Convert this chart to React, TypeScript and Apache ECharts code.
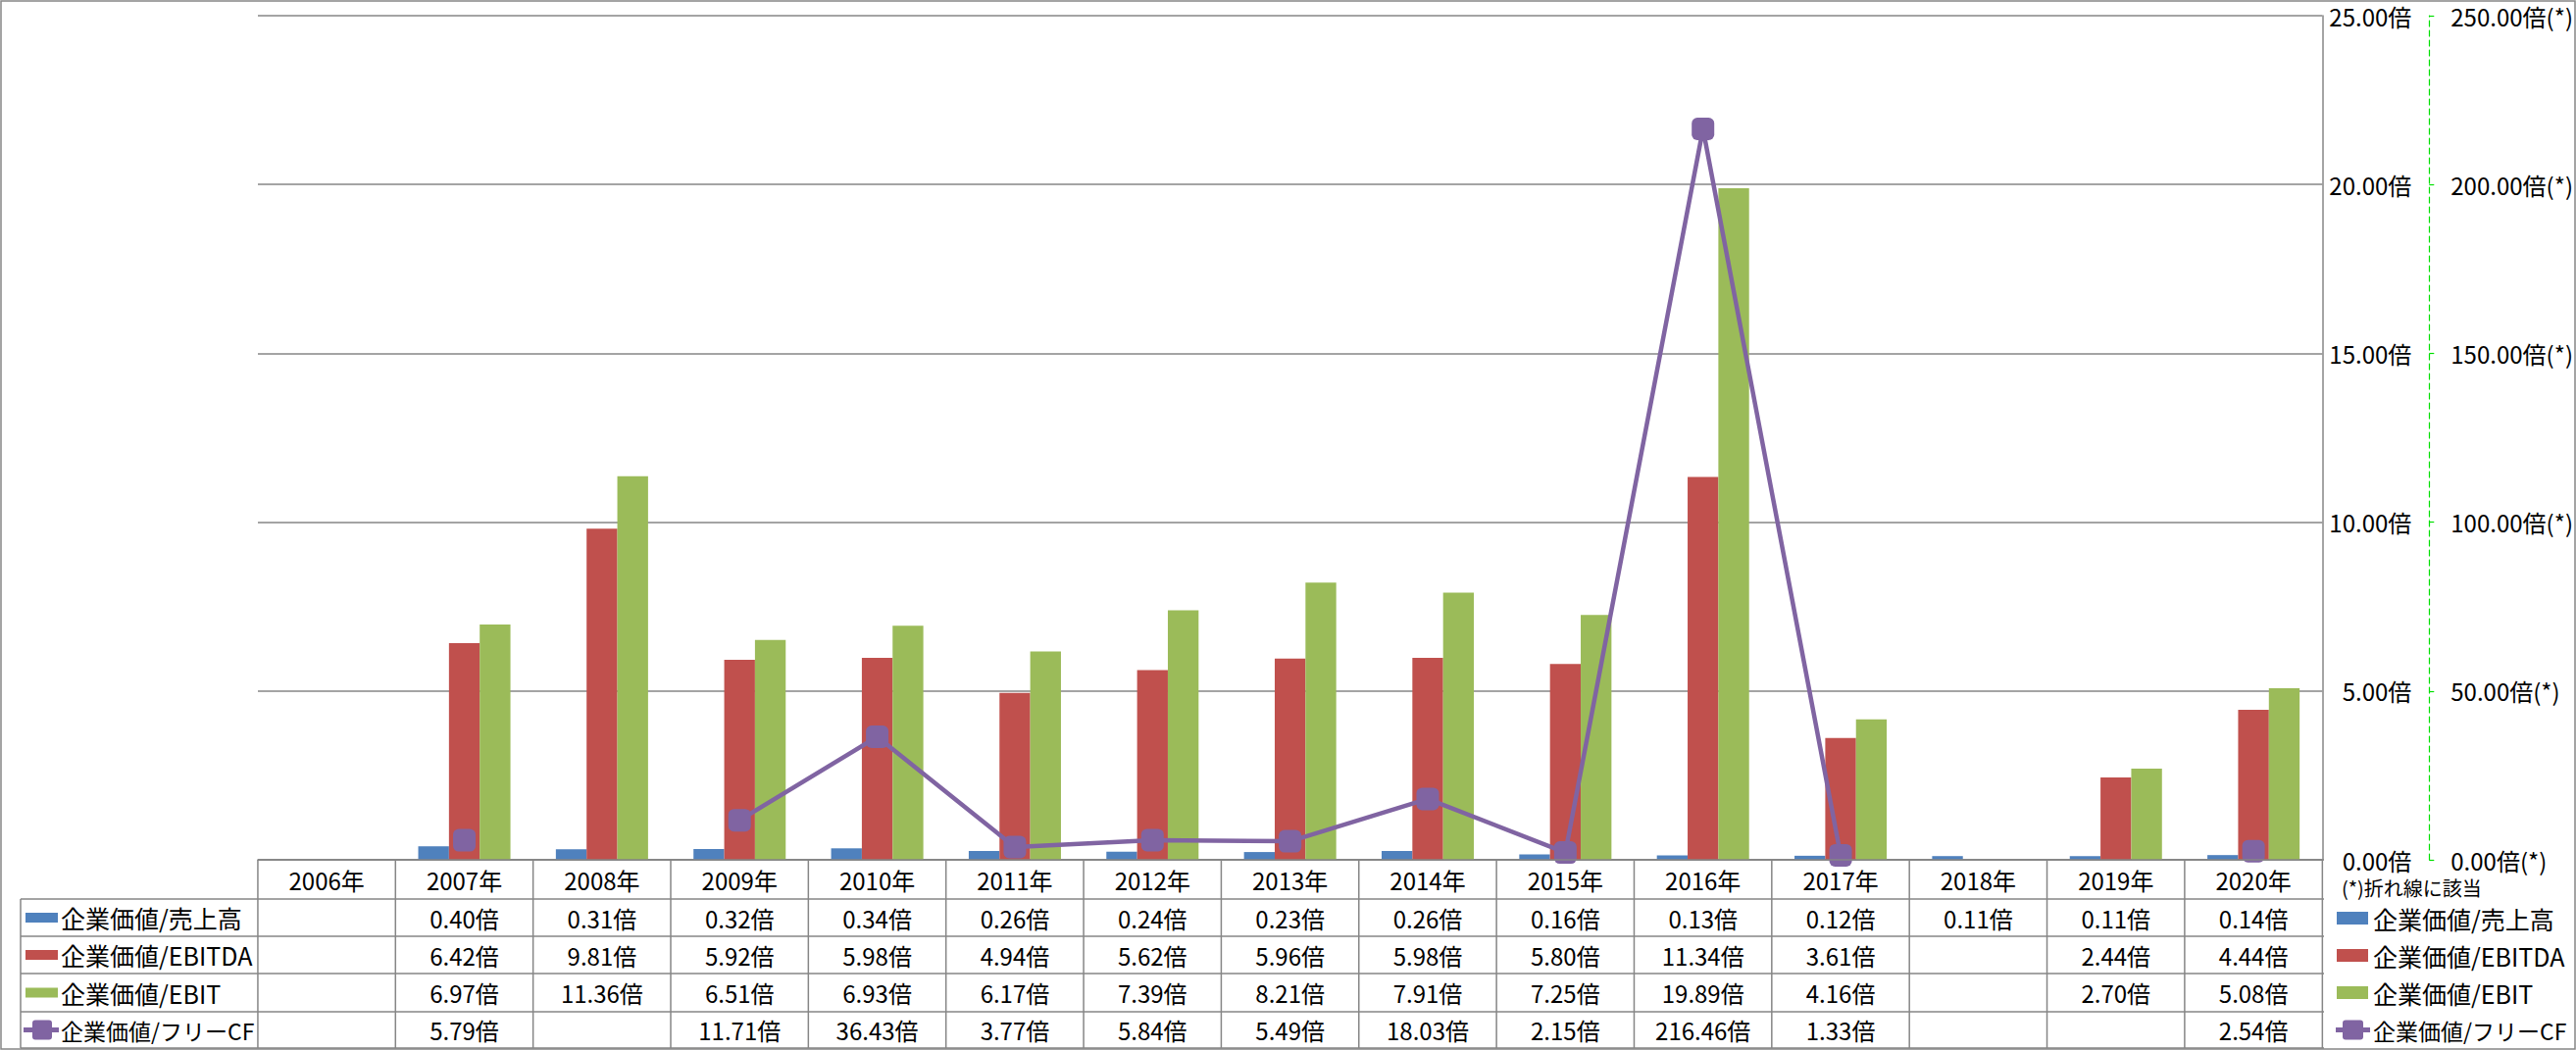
import React, { useEffect, useRef } from "react";
import * as echarts from "echarts";

const years = ["2006年", "2007年", "2008年", "2009年", "2010年", "2011年", "2012年", "2013年", "2014年", "2015年", "2016年", "2017年", "2018年", "2019年", "2020年"];
const evSales: (number | null)[] = [null, 0.40, 0.31, 0.32, 0.34, 0.26, 0.24, 0.23, 0.26, 0.16, 0.13, 0.12, 0.11, 0.11, 0.14];
const evEbitda: (number | null)[] = [null, 6.42, 9.81, 5.92, 5.98, 4.94, 5.62, 5.96, 5.98, 5.80, 11.34, 3.61, null, 2.44, 4.44];
const evEbit: (number | null)[] = [null, 6.97, 11.36, 6.51, 6.93, 6.17, 7.39, 8.21, 7.91, 7.25, 19.89, 4.16, null, 2.70, 5.08];
const evFcf: (number | null)[] = [null, 5.79, null, 11.71, 36.43, 3.77, 5.84, 5.49, 18.03, 2.15, 216.46, 1.33, null, null, 2.54];
const seriesNames = ["企業価値/売上高", "企業価値/EBITDA", "企業価値/EBIT", "企業価値/フリーCF"];
const leftAxisRange = [0, 25, 5];
const rightAxisRange = [0, 250, 50];
const noteText = "(*)折れ線に該当";

const COLORS = ["#4F81BD", "#C0504D", "#9BBB59", "#8064A2"];
const FONT = "'Noto Sans CJK JP', 'Noto Sans', sans-serif";
const W = 2627;
const H = 1071;
const GL = 263;
const GR = 2370;
const GT = 16;
const GB = 877;
const GRAY = "#868686";
const LEG_LEFT = 2383;
const LEG_TOP = 924;
const LEG_PITCH = 38;

export default function App() {
  const ref = useRef<HTMLDivElement>(null);
  useEffect(() => {
    document.body.style.margin = "0";
    const chart = echarts.init(ref.current!, null, { renderer: "svg" });
    const allSeries = [evSales, evEbitda, evEbit, evFcf];
    chart.setOption({
      animation: false,
      backgroundColor: "#ffffff",
      textStyle: { fontFamily: FONT },
      grid: { left: GL, right: W - GR, top: GT, bottom: H - GB, containLabel: false },
      legend: {
        orient: "vertical",
        left: LEG_LEFT,
        top: LEG_TOP,
        height: 145,
        padding: 0,
        itemWidth: 32,
        itemHeight: 13,
        itemGap: LEG_PITCH - 25,
        selectedMode: false,
        formatter: (name: string) => (name === seriesNames[3] ? `{s|${name}}` : name),
        textStyle: {
          fontSize: 25,
          lineHeight: 25,
          color: "#000",
          fontFamily: FONT,
          rich: { s: { fontSize: 23, lineHeight: 25, color: "#000", fontFamily: FONT } },
        },
        data: [
          { name: seriesNames[0], icon: "rect" },
          { name: seriesNames[1], icon: "rect" },
          { name: seriesNames[2], icon: "rect" },
          { name: seriesNames[3], icon: "none" },
        ],
      },
      xAxis: {
        type: "category",
        data: years,
        axisLabel: { show: false },
        axisTick: { show: false },
        axisLine: { show: true, lineStyle: { color: GRAY, width: 1.5 } },
      },
      yAxis: [
        {
          type: "value",
          position: "right",
          min: leftAxisRange[0],
          max: leftAxisRange[1],
          interval: leftAxisRange[2],
          axisLine: { show: true, lineStyle: { color: GRAY, width: 1.5 } },
          axisTick: { show: false },
          splitLine: { show: true, lineStyle: { color: GRAY, width: 1.5 } },
          axisLabel: {
            align: "right",
            margin: 91,
            fontSize: 24,
            color: "#000",
            fontFamily: FONT,
            formatter: (v: number) => `${v.toFixed(2)}倍`,
          },
        },
        {
          type: "value",
          position: "right",
          offset: 109,
          min: rightAxisRange[0],
          max: rightAxisRange[1],
          interval: rightAxisRange[2],
          axisLine: { show: true, lineStyle: { color: "#00E000", width: 1.2, type: [6, 4] } },
          axisTick: { show: true, length: 5, lineStyle: { color: "#00E000", width: 1.2 } },
          splitLine: { show: false },
          axisLabel: {
            align: "left",
            margin: 22,
            fontSize: 24,
            color: "#000",
            fontFamily: FONT,
            formatter: (v: number) => `${v.toFixed(2)}倍(*)`,
          },
        },
      ],
      series: [
        { name: seriesNames[0], type: "bar", data: evSales, itemStyle: { color: COLORS[0] }, barGap: "0%", barCategoryGap: "33%" },
        { name: seriesNames[1], type: "bar", data: evEbitda, itemStyle: { color: COLORS[1] }, barGap: "0%", barCategoryGap: "33%" },
        { name: seriesNames[2], type: "bar", data: evEbit, itemStyle: { color: COLORS[2] }, barGap: "0%", barCategoryGap: "33%" },
        {
          name: seriesNames[3],
          type: "line",
          yAxisIndex: 1,
          data: evFcf,
          connectNulls: false,
          symbol: "roundRect",
          symbolSize: 23,
          itemStyle: { color: COLORS[3] },
          lineStyle: { color: COLORS[3], width: 4.5 },
          z: 5,
        },
      ],
    });

    // Data table below the plot
    const colEdges = years.map((_, i) => chart.convertToPixel({ xAxisIndex: 0 }, i) as number);
    const colW = (GR - GL) / years.length;
    const rowLines = [GB, 917, 955, 993, 1032, 1069];
    const rowCenters = [897, 936, 974, 1012.5, 1050.5];
    const lineStyle = { stroke: GRAY, lineWidth: 1.5 };
    const els: any[] = [];
    els.push({ type: "rect", shape: { x: 1, y: 1, width: W - 2, height: H - 2 }, style: { fill: "none", stroke: GRAY, lineWidth: 1.5 }, z: 100 });
    rowLines.forEach((y, k) => {
      els.push({ type: "line", shape: { x1: k === 0 ? GL : 21, y1: y, x2: GR, y2: y }, style: lineStyle, z: 100 });
    });
    els.push({ type: "line", shape: { x1: 21, y1: rowLines[1], x2: 21, y2: rowLines[5] }, style: lineStyle, z: 100 });
    for (let i = 0; i <= years.length; i++) {
      const x = i < years.length ? colEdges[i] - colW / 2 : colEdges[years.length - 1] + colW / 2;
      els.push({ type: "line", shape: { x1: x, y1: GB, x2: x, y2: rowLines[5] }, style: lineStyle, z: 100 });
    }
    years.forEach((yr, i) => {
      els.push({
        type: "text",
        x: colEdges[i],
        y: rowCenters[0],
        style: { text: yr, fontSize: 24, fontFamily: FONT, fill: "#000", textAlign: "center", textVerticalAlign: "middle" },
        z: 100,
      });
    });
    allSeries.forEach((arr, r) => {
      const cy = rowCenters[r + 1];
      if (r < 3) {
        els.push({ type: "rect", shape: { x: 26, y: cy - 5, width: 33, height: 10 }, style: { fill: COLORS[r] }, z: 100 });
      } else {
        els.push({ type: "line", shape: { x1: 24, y1: cy, x2: 60, y2: cy }, style: { stroke: COLORS[3], lineWidth: 5 }, z: 100 });
        els.push({ type: "rect", shape: { x: 33, y: cy - 10, width: 20, height: 20, r: 3 }, style: { fill: COLORS[3] }, z: 101 });
      }
      els.push({
        type: "text",
        x: 62,
        y: cy,
        style: { text: seriesNames[r], fontSize: r === 3 ? 23 : 25, fontFamily: FONT, fill: "#000", textAlign: "left", textVerticalAlign: "middle" },
        z: 100,
      });
      arr.forEach((v, i) => {
        if (v === null) return;
        els.push({
          type: "text",
          x: colEdges[i],
          y: cy,
          style: { text: `${v.toFixed(2)}倍`, fontSize: 24, fontFamily: FONT, fill: "#000", textAlign: "center", textVerticalAlign: "middle" },
          z: 100,
        });
      });
    });
    // legend icon for the line series (line + square marker)
    const fcfLegY = LEG_TOP + 3 * LEG_PITCH + 12.5;
    els.push({ type: "line", shape: { x1: LEG_LEFT - 1, y1: fcfLegY, x2: LEG_LEFT + 34, y2: fcfLegY }, style: { stroke: COLORS[3], lineWidth: 5 }, z: 100 });
    els.push({ type: "rect", shape: { x: LEG_LEFT + 6, y: fcfLegY - 10, width: 21, height: 20, r: 3 }, style: { fill: COLORS[3] }, z: 101 });
    els.push({
      type: "text",
      x: 2388,
      y: 905,
      style: { text: noteText, fontSize: 20, fontFamily: FONT, fill: "#000", textAlign: "left", textVerticalAlign: "middle" },
      z: 100,
    });
    chart.setOption({ graphic: { elements: els } });
    return () => chart.dispose();
  }, []);
  return <div ref={ref} style={{ width: W, height: H }} />;
}
